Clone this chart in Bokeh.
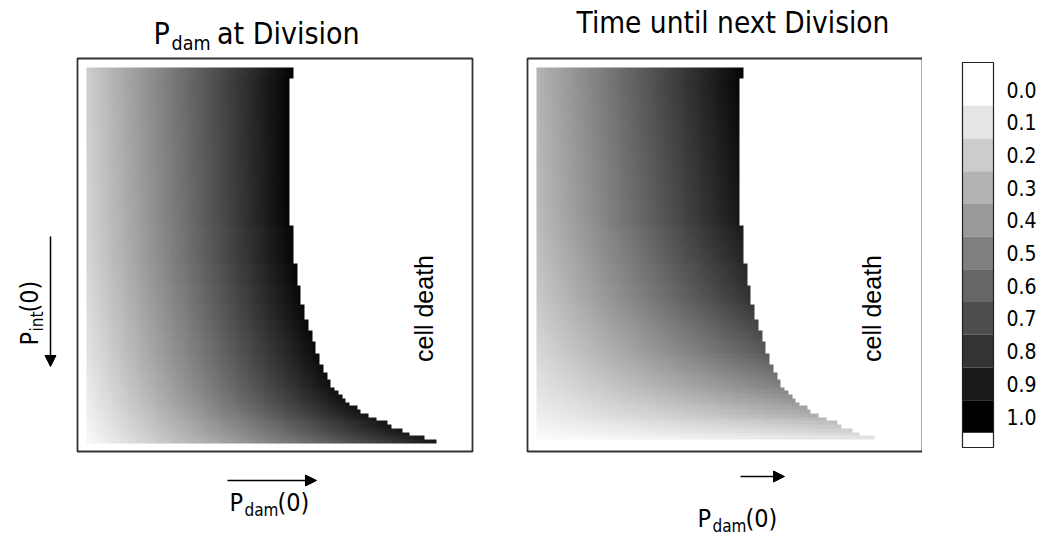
import numpy as np
from bokeh.plotting import figure
from bokeh.layouts import row
from bokeh.models import Range1d, Label, Arrow, NormalHead, LinearColorMapper
from bokeh.embed import file_html
from bokeh.resources import INLINE
from bokeh.core.properties import value

# ---------------------------------------------------------------- data
N = 100  # grid resolution along P_dam(0) (columns) and P_int(0) (rows, top -> bottom)

# surviving P_dam(0) columns per P_int(0) row (run-length: rows, columns)
edge_rows = [3, 39, 10, 6, 5, 4, 3, 3, 3, 3, 2, 2, 2,
             1, 1, 1, 1, 1, 1, 1, 1, 1, 1, 1, 1, 1, 1, 1]
edge_cols = [55, 54, 55, 56, 57, 58, 59, 60, 61, 62, 63, 64, 65,
             66, 67, 68, 69, 70, 72, 73, 75, 77, 80, 81, 84, 86, 90, 93]

# P_dam at division: value at the first column and at the last surviving column
pdiv_rows = [0, 50, 75, 90, 99]
pdiv_left = [0.20, 0.17, 0.12, 0.07, 0.03]
pdiv_edge = [0.98, 0.97, 0.95, 0.92, 0.90]

# time until next division (normalised)
time_rows = [0, 40, 60, 75, 85, 92, 98, 99]
time_left = [0.30, 0.27, 0.22, 0.16, 0.11, 0.07, 0.02, 0.0]
time_edge = [0.97, 0.90, 0.80, 0.65, 0.48, 0.32, 0.12, 0.0]

levels = [0.0, 0.1, 0.2, 0.3, 0.4, 0.5, 0.6, 0.7, 0.8, 0.9, 1.0]
level_labels = ["0.0", "0.1", "0.2", "0.3", "0.4", "0.5",
                "0.6", "0.7", "0.8", "0.9", "1.0"]

# ---------------------------------------------------------------- layout (page px)
H = 535
CELL = 3.76                      # px per grid cell
FRAME_W, FRAME_H = 395, 393      # boxed panel area
FRAME_TOP = 58
PAD = 9                          # px between box and grid (left / top)
GRID_BOTTOM = FRAME_TOP + PAD + N * CELL
BASELINE_SHIFT = 0.36            # alphabetic-baseline correction, in em

TITLE_FONT = "DejaVu Sans Condensed"
DEATH_FONT = "Liberation Sans"

grays = ["#%02x%02x%02x" % (g, g, g) for g in range(255, -1, -1)]
mapper = LinearColorMapper(palette=grays, low=0, high=1, nan_color="rgba(0,0,0,0)")


def build_grid(rows, left, edge):
    alive = np.repeat(edge_cols, edge_rows)
    grid = np.full((N, N), np.nan)
    for r in range(N):
        lo = np.interp(r, rows, left)
        hi = np.interp(r, rows, edge)
        n = alive[r]
        grid[r, :n] = lo + (hi - lo) * np.arange(n) / (n - 1)
    return grid


def bare_figure(width, x_range, y_range):
    p = figure(width=width, height=H, x_range=x_range, y_range=y_range,
               output_backend="svg", toolbar_location=None, title=None,
               x_axis_location=None, y_axis_location=None,
               min_border_left=0, min_border_right=0,
               min_border_top=0, min_border_bottom=0)
    p.xgrid.visible = False
    p.ygrid.visible = False
    p.outline_line_color = None
    p.background_fill_color = "white"
    p.border_fill_color = "white"
    return p


def panel(page_left, width, frame_left, grid):
    x0 = frame_left + PAD                         # page x of grid column 0
    p = bare_figure(width,
                    Range1d((page_left - x0) / CELL, (page_left + width - x0) / CELL),
                    Range1d((GRID_BOTTOM - H) / CELL, GRID_BOTTOM / CELL))

    def at(px, py):
        return (px - x0) / CELL, (GRID_BOTTOM - py) / CELL

    bl, bb = at(frame_left, FRAME_TOP + FRAME_H)
    br, bt = at(frame_left + FRAME_W, FRAME_TOP)
    p.image(image=[grid[::-1]], x=0, y=0, dw=N, dh=N, color_mapper=mapper)
    p.quad(left=bl, right=br, bottom=bb, top=bt, fill_color=None,
           line_color="#333333", line_width=1.8)

    def label(px, py, text, size, font=TITLE_FONT, angle=0, align="left",
              baseline="alphabetic"):
        if baseline == "alphabetic":
            if angle == 0:
                py -= BASELINE_SHIFT * size
            else:
                px -= BASELINE_SHIFT * size
        x, y = at(px, py)
        p.add_layout(Label(x=x, y=y, text=text, text_font=font,
                           text_font_size=f"{size}px", text_color="black",
                           angle=angle, angle_units="deg",
                           text_align=align, text_baseline=baseline))

    def arrow(xa, ya, xb, yb):
        a, b = at(xa, ya)
        c, d = at(xb, yb)
        p.add_layout(Arrow(x_start=a, y_start=b, x_end=c, y_end=d,
                           line_width=1.5, line_color="black",
                           end=NormalHead(size=11, fill_color="black",
                                          line_color="black")))
    return p, label, arrow


# ---------------------------------------------------------------- left panel
p1, label1, arrow1 = panel(0, 500, 77, build_grid(pdiv_rows, pdiv_left, pdiv_edge))
label1(153, 44, "P", 30)
label1(171, 50.5, "dam", 19.5)
label1(216.5, 44, "at Division", 30)
label1(423, 308, "cell death", 25, font=DEATH_FONT, angle=90,
       align="center", baseline="middle")
arrow1(227, 480, 316, 480)
label1(229, 511, "P", 25)
label1(244, 516, "dam", 17)
label1(277, 511, "(0)", 25)
arrow1(50, 236, 50, 366)
label1(38, 345, "P", 25, angle=90)
label1(43, 331, "int", 17, angle=90)
label1(38, 312, "(0)", 25, angle=90)

# ---------------------------------------------------------------- right panel
p2, label2, arrow2 = panel(500, 422, 527, build_grid(time_rows, time_left, time_edge))
label2(732.5, 33.5, "Time until next Division", 29.5, align="center")
label2(871, 308, "cell death", 25, font=DEATH_FONT, angle=90,
       align="center", baseline="middle")
arrow2(740, 476, 784, 476)
label2(697, 527, "P", 25)
label2(712, 532, "dam", 17)
label2(745, 527, "(0)", 25)

# ---------------------------------------------------------------- colour bar
CB_LEFT = 922
LEVEL_Y0, LEVEL_STEP = 89, 327  # page y of level 0, px per unit level


def lv(py):
    return (py - LEVEL_Y0) / LEVEL_STEP


p3 = bare_figure(1041 - CB_LEFT, Range1d(CB_LEFT, 1041), Range1d(lv(H), lv(0)))
bar_x0, bar_x1 = 962, 993
p3.quad(left=bar_x0, right=bar_x1, top=lv(62), bottom=lv(447),
        fill_color="white", line_color=None)
lv_arr = np.array(levels)
p3.quad(left=bar_x0, right=bar_x1, top=lv_arr - 0.05, bottom=lv_arr + 0.05,
        fill_color=[grays[int(round(v * 255))] for v in levels], line_color=None)
p3.quad(left=bar_x0, right=bar_x1, top=lv(62), bottom=lv(447),
        fill_color=None, line_color="#222222", line_width=1.2)
p3.text(x=1006, y=levels, text=level_labels, text_baseline="middle",
        text_font=value(TITLE_FONT), text_font_size="21px", text_color="black")

layout = row(p1, p2, p3)
open("out.html", "w").write(file_html(layout, INLINE))
